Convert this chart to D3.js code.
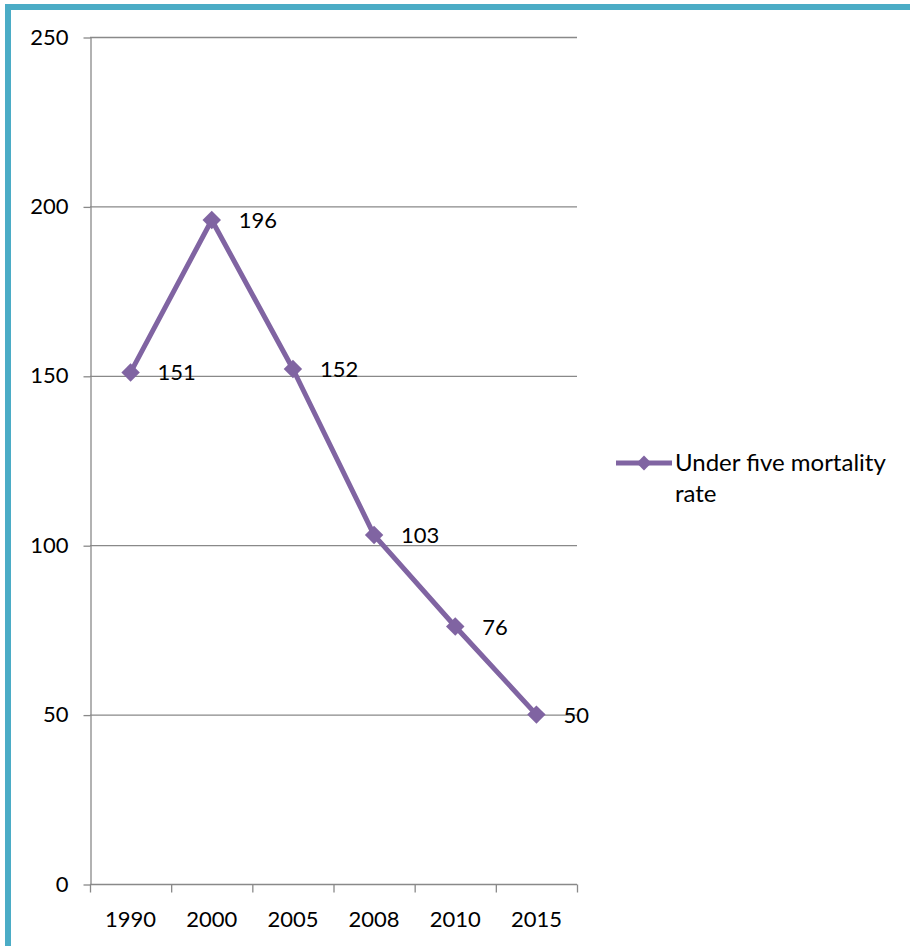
<!DOCTYPE html>
<html>
<head>
<meta charset="utf-8">
<script src="https://cdn.jsdelivr.net/npm/d3@7"></script>
<style>
  html, body { margin: 0; padding: 0; background: #fff; overflow: hidden; }
  svg { display: block; font-family: Lato, "Open Sans", sans-serif; }
</style>
</head>
<body>
<svg id="chart" width="910" height="946"></svg>
<script>
// Under-five mortality rate by year
const years = ["1990", "2000", "2005", "2008", "2010", "2015"];
const mortality = [151, 196, 152, 103, 76, 50];
const yTicks = [0, 50, 100, 150, 200, 250];
const seriesName = ["Under five mortality", "rate"];

const svg = d3.select("#chart");
const purple = "#8064A2";
const gridGray = "#898989";
const fontSize = 22;

// outer frame
svg.append("rect")
  .attr("x", 8).attr("y", 7)
  .attr("width", 1000).attr("height", 1000)
  .attr("fill", "none")
  .attr("stroke", "#4BACC6")
  .attr("stroke-width", 6);

const plot = { left: 90, right: 577, top: 37, bottom: 884 };

const x = d3.scaleBand()
  .domain(years)
  .range([plot.left, plot.right])
  .paddingInner(0).paddingOuter(0);

const y = d3.scaleLinear()
  .domain([0, 250])
  .range([plot.bottom, plot.top]);

// horizontal gridlines
svg.append("g")
  .selectAll("line")
  .data(yTicks.filter(d => d > 0))
  .join("line")
  .attr("x1", plot.left).attr("x2", plot.right)
  .attr("y1", d => y(d) + 0.5).attr("y2", d => y(d) + 0.5)
  .attr("stroke", gridGray).attr("stroke-width", 1.3);

// y axis
const yAxis = svg.append("g")
  .attr("transform", `translate(${plot.left + 0.5},0)`)
  .call(d3.axisLeft(y).tickValues(yTicks).tickSize(7).tickPadding(15).tickSizeOuter(0));
yAxis.select(".domain").attr("stroke", gridGray).attr("stroke-width", 1.3);
yAxis.selectAll(".tick line").attr("stroke", gridGray).attr("stroke-width", 1.3)
  .attr("transform", "translate(0,0.5)");
yAxis.selectAll(".tick text")
  .attr("font-size", fontSize).attr("fill", "#000")
  .attr("font-family", "Lato, sans-serif");

// x axis with boundary ticks between categories
const xAxisG = svg.append("g")
  .attr("transform", `translate(0,${plot.bottom + 0.5})`);
xAxisG.append("line")
  .attr("x1", plot.left).attr("x2", plot.right)
  .attr("stroke", gridGray).attr("stroke-width", 1.3);
const boundaries = years.map(d => x(d)).concat([x(years[years.length - 1]) + x.bandwidth()]);
xAxisG.selectAll("line.tk")
  .data(boundaries)
  .join("line")
  .attr("class", "tk")
  .attr("x1", d => d + 0.5).attr("x2", d => d + 0.5)
  .attr("y1", 0).attr("y2", 8)
  .attr("stroke", gridGray).attr("stroke-width", 1.3);
xAxisG.selectAll("text")
  .data(years)
  .join("text")
  .attr("x", d => x(d) + x.bandwidth() / 2)
  .attr("y", 42)
  .attr("text-anchor", "middle")
  .attr("font-size", fontSize)
  .attr("fill", "#000")
  .text(d => d);

// series line
const pts = years.map((d, i) => [x(d) + x.bandwidth() / 2, y(mortality[i])]);
svg.append("path")
  .attr("d", d3.line()(pts))
  .attr("fill", "none")
  .attr("stroke", purple)
  .attr("stroke-width", 5)
  .attr("stroke-linejoin", "round");

// diamond markers
const diamond = d3.symbol().type(d3.symbolSquare).size(170);
svg.append("g")
  .selectAll("path")
  .data(pts)
  .join("path")
  .attr("d", diamond)
  .attr("transform", d => `translate(${d[0]},${d[1]}) rotate(45)`)
  .attr("fill", purple);

// value labels
svg.append("g")
  .selectAll("text")
  .data(pts)
  .join("text")
  .attr("x", d => d[0] + 27)
  .attr("y", d => d[1] + 8)
  .attr("font-size", fontSize)
  .attr("fill", "#000")
  .text((d, i) => mortality[i]);

// legend
const lg = svg.append("g").attr("transform", "translate(616,463)");
lg.append("line")
  .attr("x1", 0).attr("x2", 56)
  .attr("stroke", purple).attr("stroke-width", 5);
lg.append("path")
  .attr("d", d3.symbol().type(d3.symbolSquare).size(110))
  .attr("transform", "translate(28,0) rotate(45)")
  .attr("fill", purple);
lg.selectAll("text")
  .data(seriesName)
  .join("text")
  .attr("x", 59)
  .attr("y", (d, i) => 8 + i * 31)
  .attr("font-size", 24)
  .attr("fill", "#000")
  .text(d => d);
</script>
</body>
</html>
